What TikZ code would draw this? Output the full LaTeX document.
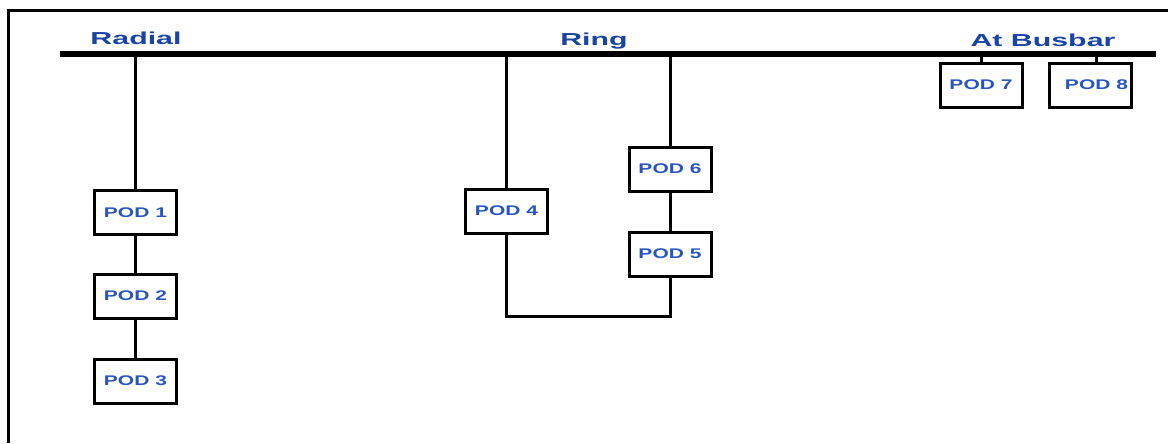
\documentclass[tikz,border=0pt]{standalone}
\usepackage{fontspec}
\setmainfont{Liberation Sans}
\definecolor{titleblue}{RGB}{26,68,162}
\definecolor{podblue}{RGB}{40,86,190}
\begin{document}
\begin{tikzpicture}[x=0.75pt,y=-0.75pt,
  wire/.style={line width=3*0.75pt,line join=miter},
  bus/.style={line width=6*0.75pt},
  pod/.style={draw,line width=3*0.75pt,fill=white,inner sep=0pt,
    minimum width=82*0.75pt,minimum height=44*0.75pt,
    font=\fontsize{10.5pt}{12pt}\selectfont\bfseries,text=podblue},
  title/.style={inner sep=0pt,font=\fontsize{13pt}{15pt}\selectfont\bfseries,text=titleblue}]
\useasboundingbox (0,0) rectangle (1168,443);
% outer frame (top and left edges)
\draw[line width=3*0.75pt] (8.7,443) -- (8.7,10.5) -- (1168,10.5);
% busbar
\coordinate (busL) at (60,54);
\coordinate (busR) at (1156,54);
\draw[bus] (busL) -- (busR);
% section titles
\node[title] (tRadial) at (136,38) {\scalebox{1.75}[1]{Radial}};
\node[title] (tRing) at (594,41) {\scalebox{1.75}[1]{Ring}};
\node[title] (tBus) at (1043,40) {\scalebox{1.75}[1]{At Busbar}};
% taps on the busbar
\coordinate (tap1) at (135.5,54);
\coordinate (tap4) at (506.5,54);
\coordinate (tap6) at (670,54);
\coordinate (tap7) at (981,54);
\coordinate (tap8) at (1096,54);
\coordinate (ringbot) at (588,316);
% points of delivery
\node[pod] (p1) at (135.5,212.5) {\scalebox{1.5}[1]{POD 1}};
\node[pod] (p2) at (135.5,296) {\scalebox{1.5}[1]{POD 2}};
\node[pod] (p3) at (135.5,381) {\scalebox{1.5}[1]{POD 3}};
\node[pod] (p4) at (506.5,211) {\scalebox{1.5}[1]{POD 4}};
\node[pod] (p6) at (670,169) {\scalebox{1.5}[1]{POD 6}};
\node[pod] (p5) at (670,254) {\scalebox{1.5}[1]{POD 5}};
\node[pod] (p7) at (981,85) {\scalebox{1.5}[1]{POD 7}};
\node[pod] (p8) at (1090.5,85) {\hspace*{9pt}\scalebox{1.5}[1]{POD 8}};
% radial feeder
\draw[wire] (tap1) -- (p1.north);
\draw[wire] (p1.south) -- (p2.north);
\draw[wire] (p2.south) -- (p3.north);
% ring feeder
\draw[wire] (tap4) -- (p4.north);
\draw[wire] (tap6) -- (p6.north);
\draw[wire] (p6.south) -- (p5.north);
\draw[wire] (p4.south) |- (ringbot) -| (p5.south);
% busbar connections
\draw[wire] (tap7) -- (p7.north);
\draw[wire] (tap8) -- (tap8 |- p8.north);
\end{tikzpicture}
\end{document}
